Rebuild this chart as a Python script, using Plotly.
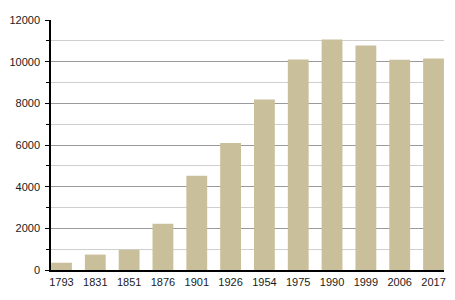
import plotly.graph_objects as go

years = ["1793", "1831", "1851", "1876", "1901", "1926", "1954", "1975", "1990", "1999", "2006", "2017"]
population = [350, 740, 970, 2220, 4530, 6100, 8180, 10100, 11070, 10780, 10090, 10150]

fig = go.Figure(go.Bar(x=years, y=population, marker=dict(color="#c9c09b", line=dict(width=0)),
                       width=0.616))

fig.update_layout(
    width=455, height=300,
    margin=dict(l=50, r=9, t=20, b=30),
    paper_bgcolor="white", plot_bgcolor="white",
    showlegend=False,
    font=dict(family="Liberation Sans, Arial, sans-serif", size=11, color="#1a1a1a"),
)
fig.update_xaxes(
    type="category", range=[-0.31, 11.31],
    showline=True, linecolor="black", linewidth=1.5,
    ticks="", showgrid=False, ticklabelstandoff=1,
)
fig.update_yaxes(
    range=[0, 12000], dtick=2000, tick0=0, tickformat="d",
    showline=True, linecolor="black", linewidth=1.5,
    ticks="outside", ticklen=4, tickcolor="black",
    showgrid=True, gridcolor="#9a9a9a", gridwidth=1,
    zeroline=False, ticklabelstandoff=3,
    minor=dict(dtick=1000, showgrid=True, gridcolor="#cfcfcf", gridwidth=1,
               ticks="outside", ticklen=3, tickcolor="black"),
)

fig.write_html("out.html")
